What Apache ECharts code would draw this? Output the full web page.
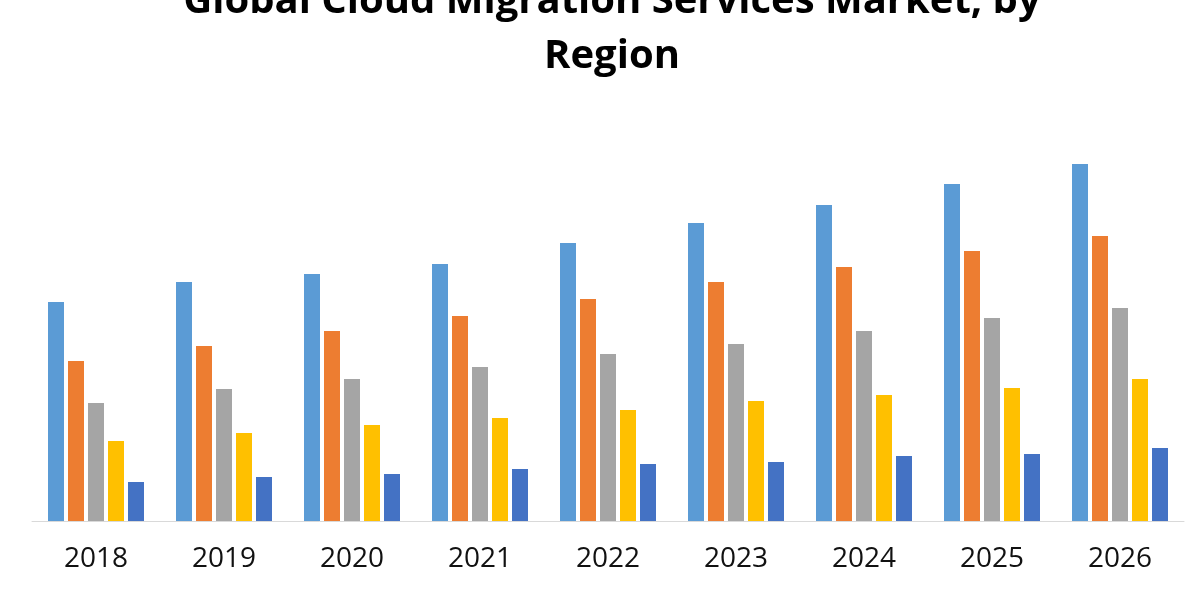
<!DOCTYPE html>
<html>
<head>
<meta charset="utf-8">
<script src="https://cdn.jsdelivr.net/npm/echarts@6/dist/echarts.min.js"></script>
<style>html,body{margin:0;padding:0;background:#fff;}#chart{width:1200px;height:600px;}</style>
</head>
<body>
<div id="chart"></div>
<script>
const titleText = 'Global Cloud Migration Services Market, by\nRegion';
const categories = ['2018','2019','2020','2021','2022','2023','2024','2025','2026'];
const seriesNames = ['North America','Europe','Asia Pacific','Middle East & Africa','South America'];
const northAmerica = [219, 239, 247, 257, 278, 298, 316, 337, 357];
const europe       = [160, 175, 190, 205, 222, 239, 254, 270, 285];
const asiaPacific  = [118, 132, 142, 154, 167, 177, 190, 203, 213];
const mea          = [80, 88, 96, 103, 111, 120, 126, 133, 142];
const southAmerica = [39, 44, 47, 52, 57, 59, 65, 67, 73];
const colors = ['#5B9BD5','#ED7D31','#A5A5A5','#FFC000','#4472C4'];

const seriesData = [northAmerica, europe, asiaPacific, mea, southAmerica];
const chart = echarts.init(document.getElementById('chart'), null, {renderer:'canvas'});
chart.setOption({
  animation: false,
  backgroundColor: '#ffffff',
  title: {
    text: titleText,
    left: 607,
    textAlign: 'center',
    top: -31,
    textStyle: {fontFamily: 'Open Sans', fontWeight: 'bold', fontSize: 40, lineHeight: 55, color: '#000'}
  },
  grid: {left: 32, right: 16, top: 121, bottom: 79},
  xAxis: {
    type: 'category',
    data: categories,
    axisLine: {lineStyle: {color: '#D9D9D9', width: 1}},
    axisTick: {show: false},
    axisLabel: {fontFamily: 'Open Sans', fontSize: 28, color: '#111', margin: 24}
  },
  yAxis: {
    type: 'value', min: 0, max: 400,
    show: false,
    splitLine: {show: false}
  },
  series: seriesData.map((d, i) => ({
    name: seriesNames[i],
    type: 'bar',
    data: d,
    barWidth: 16,
    barGap: '25%',
    itemStyle: {color: colors[i]}
  }))
});
</script>
</body>
</html>
